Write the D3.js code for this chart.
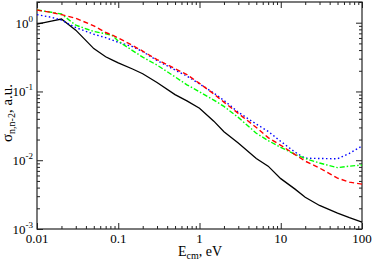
<!DOCTYPE html>
<html>
<head>
<meta charset="utf-8">
<script src="https://cdn.jsdelivr.net/npm/d3@7"></script>
<style>
  body { margin: 0; background: #fff; }
  text { font-family: "Liberation Serif", "DejaVu Serif", serif; fill: #000; }
</style>
</head>
<body>
<div id="chart"></div>
<script>
// energy grid (eV) shared by all curves
var energy = [0.01, 0.015, 0.02, 0.03, 0.05, 0.07, 0.085, 0.1, 0.15, 0.2, 0.3, 0.5, 0.7,
              1, 1.5, 2, 3, 5, 7, 10, 15, 20, 30, 50, 70, 100];

var sigmaBlack = [0.95, 1.055, 1.13, 0.78, 0.42, 0.32, 0.286, 0.26, 0.212, 0.181, 0.135, 0.09, 0.073,
                  0.057, 0.037, 0.026, 0.0178, 0.0106, 0.0082, 0.0054, 0.0038, 0.0029, 0.0022, 0.0017, 0.00146, 0.00126];
var sigmaRed   = [1.53, 1.41, 1.31, 1.16, 0.90, 0.72, 0.66, 0.60, 0.467, 0.386, 0.291, 0.215, 0.176,
                  0.131, 0.092, 0.070, 0.048, 0.030, 0.0213, 0.0165, 0.0121, 0.0097, 0.0077, 0.0055, 0.0048, 0.0045];
var sigmaGreen = [1.53, 1.42, 1.34, 0.92, 0.745, 0.69, 0.648, 0.54, 0.393, 0.316, 0.242, 0.163, 0.125,
                  0.099, 0.075, 0.0606, 0.042, 0.0247, 0.0193, 0.0154, 0.0122, 0.0106, 0.0091, 0.0078, 0.0082, 0.0085];
var sigmaBlue  = [1.31, 1.20, 1.09, 0.85, 0.68, 0.606, 0.557, 0.52, 0.449, 0.38, 0.282, 0.205, 0.167,
                  0.129, 0.095, 0.074, 0.05, 0.0335, 0.0263, 0.0188, 0.0131, 0.0107, 0.0106, 0.0105, 0.0126, 0.0161];

var xMajor = [0.01, 0.1, 1, 10, 100];
var xLabels = ["0.01", "0.1", "1", "10", "100"];
var yMajor = [1e-3, 1e-2, 1e-1, 1];
var yExp = ["-3", "-2", "-1", "0"];

var W = 374, H = 262;
var pLeft = 37, pRight = 362, pTop = 2, pBottom = 229;

var svg = d3.select("#chart").append("svg")
    .attr("width", W)
    .attr("height", H);

var x = d3.scaleLog().domain([0.01, 100]).range([pLeft, pRight]);
var y = d3.scaleLog().domain([1e-3, 2]).range([pBottom, pTop]);

// minor tick values
var xMinor = [], yMinor = [];
[0.01, 0.1, 1, 10].forEach(function(d) {
    for (var k = 2; k <= 9; k++) xMinor.push(d * k);
});
[1e-3, 1e-2, 1e-1, 1].forEach(function(d) {
    for (var k = 2; k <= 9; k++) if (d * k <= 2) yMinor.push(d * k);
});

function drawAxis(axis, tr) {
    var g = svg.append("g").attr("transform", tr).call(axis);
    g.select(".domain").remove();
    g.selectAll("line").attr("stroke", "#222");
}

drawAxis(d3.axisBottom(x).tickValues(xMajor).tickSize(-6).tickFormat(""), "translate(0," + pBottom + ")");
drawAxis(d3.axisBottom(x).tickValues(xMinor).tickSize(-3).tickFormat(""), "translate(0," + pBottom + ")");
drawAxis(d3.axisTop(x).tickValues(xMajor).tickSize(-6).tickFormat(""), "translate(0," + pTop + ")");
drawAxis(d3.axisTop(x).tickValues(xMinor).tickSize(-3).tickFormat(""), "translate(0," + pTop + ")");
drawAxis(d3.axisLeft(y).tickValues(yMajor).tickSize(-6).tickFormat(""), "translate(" + pLeft + ",0)");
drawAxis(d3.axisLeft(y).tickValues(yMinor).tickSize(-3).tickFormat(""), "translate(" + pLeft + ",0)");
drawAxis(d3.axisRight(y).tickValues(yMajor).tickSize(-6).tickFormat(""), "translate(" + pRight + ",0)");
drawAxis(d3.axisRight(y).tickValues(yMinor).tickSize(-3).tickFormat(""), "translate(" + pRight + ",0)");

svg.append("rect")
    .attr("x", pLeft).attr("y", pTop)
    .attr("width", pRight - pLeft).attr("height", pBottom - pTop)
    .attr("fill", "none")
    .attr("stroke", "#222")
    .attr("stroke-width", 1.2);

// curves
var line = d3.line()
    .x(function(d) { return x(d[0]); })
    .y(function(d) { return y(d[1]); });

var series = [
    { v: sigmaBlack, color: "#000000", dash: null, w: 1.3 },
    { v: sigmaBlue,  color: "#0000ff", dash: "1.5,2.5", w: 1.4 },
    { v: sigmaGreen, color: "#00ff00", dash: "5,2,1.5,2", w: 1.4 },
    { v: sigmaRed,   color: "#ff0000", dash: "5,3", w: 1.4 }
];

series.forEach(function(s) {
    svg.append("path")
        .datum(energy.map(function(e, i) { return [e, s.v[i]]; }))
        .attr("d", line)
        .attr("fill", "none")
        .attr("stroke", s.color)
        .attr("stroke-width", s.w)
        .attr("stroke-dasharray", s.dash);
});

// x tick labels
svg.selectAll(".xl")
    .data(xMajor)
    .enter()
    .append("text")
        .attr("x", function(d) { return x(d); })
        .attr("y", 243)
        .attr("text-anchor", "middle")
        .attr("font-size", 13)
        .text(function(d, i) { return xLabels[i]; });

// y tick labels 10^n
var yl = svg.selectAll(".yl")
    .data(yMajor)
    .enter()
    .append("text")
        .attr("x", 33)
        .attr("y", function(d) { return y(d) + 5; })
        .attr("text-anchor", "end")
        .attr("font-size", 13);
yl.append("tspan").text("10");
yl.append("tspan")
    .attr("font-size", 9)
    .attr("dy", -6)
    .text(function(d, i) { return yExp[i]; });

// axis titles
var xt = svg.append("text")
    .attr("x", 200)
    .attr("y", 256)
    .attr("text-anchor", "middle")
    .attr("font-size", 14);
xt.append("tspan").text("E");
xt.append("tspan").attr("font-size", 10).attr("dy", 3).text("cm");
xt.append("tspan").attr("dy", -3).text(", eV");

var yt = svg.append("text")
    .attr("transform", "translate(12,113) rotate(-90)")
    .attr("text-anchor", "middle")
    .attr("font-size", 15);
yt.append("tspan").text("σ");
yt.append("tspan").attr("font-size", 10).attr("dy", 3).text("n,n-2");
yt.append("tspan").attr("dy", -3).text(", a.u.");
</script>
</body>
</html>
